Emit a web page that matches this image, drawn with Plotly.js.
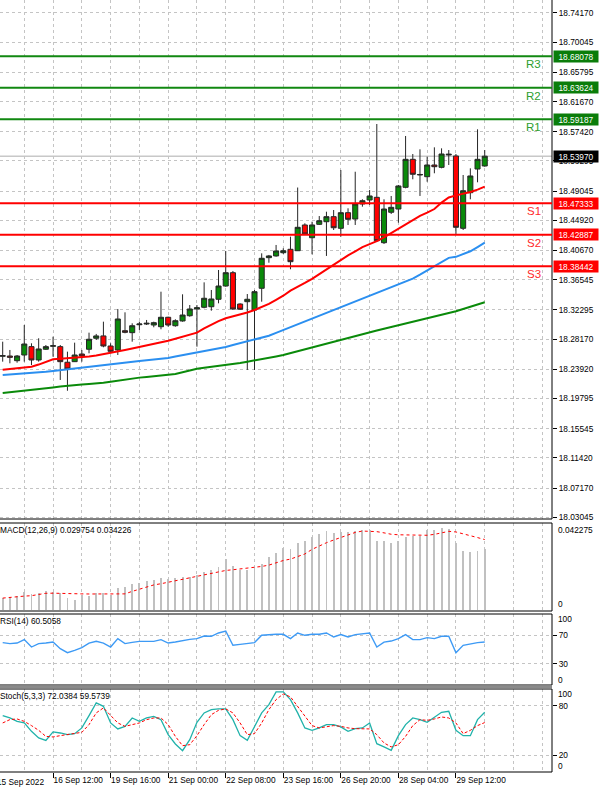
<!DOCTYPE html>
<html><head><meta charset="utf-8">
<script src="https://cdn.plot.ly/plotly-3.0.1.min.js"></script>
<style>html,body{margin:0;padding:0;background:#fff;}#chart{width:600px;height:791px;}</style>
</head><body><div id="chart"></div>
<script>
// ---------- DATA ----------
const openP = [18.2575,18.2579,18.2513,18.2593,18.2711,18.2523,18.2674,18.2716,18.2711,18.2491,18.2499,18.2607,18.2674,18.2829,18.2862,18.2720,18.2664,18.2936,18.2908,18.3020,18.3030,18.3016,18.2992,18.3125,18.3006,18.3073,18.3147,18.3242,18.3266,18.3274,18.3379,18.3566,18.3754,18.3312,18.3345,18.3228,18.3534,18.3966,18.3990,18.4036,18.4084,18.4064,18.4427,18.4247,18.4436,18.4473,18.4544,18.4380,18.4600,18.4511,18.4723,18.4779,18.4817,18.4177,18.4606,18.4652,18.4958,18.5353,18.5132,18.5108,18.5273,18.5240,18.5414,18.5400,18.4380,18.4882,18.5216,18.5259];
const highP = [18.2781,18.2664,18.2593,18.3016,18.2758,18.2829,18.2734,18.2851,18.2734,18.2640,18.2767,18.2664,18.2908,18.2890,18.3063,18.2758,18.3242,18.3195,18.3040,18.3063,18.3087,18.3063,18.3486,18.3133,18.3097,18.3449,18.3298,18.3298,18.3618,18.3510,18.3792,18.4060,18.3778,18.3322,18.3453,18.3510,18.4027,18.4004,18.4145,18.4098,18.4262,18.4955,18.4451,18.4473,18.4553,18.4614,18.4638,18.5202,18.4662,18.5178,18.4789,18.4920,18.5851,18.4789,18.4836,18.4991,18.5682,18.5428,18.5494,18.5390,18.5522,18.5508,18.5484,18.5428,18.5132,18.5226,18.5776,18.5484];
const lowP = [18.2499,18.2476,18.2485,18.2499,18.2452,18.2499,18.2664,18.2569,18.2241,18.2089,18.2495,18.2499,18.2617,18.2805,18.2702,18.2617,18.2593,18.2899,18.2781,18.2946,18.3016,18.2984,18.2956,18.2992,18.2992,18.3063,18.3133,18.2711,18.3252,18.3218,18.3322,18.3556,18.3228,18.3228,18.2382,18.2382,18.3345,18.3895,18.3980,18.4018,18.3802,18.4060,18.4286,18.4013,18.4427,18.3990,18.4356,18.4262,18.4427,18.4427,18.4685,18.4709,18.4191,18.4159,18.4582,18.4459,18.4944,18.5071,18.4836,18.5037,18.5156,18.5226,18.5273,18.4300,18.4356,18.4789,18.5029,18.5249];
const closeP = [18.2584,18.2561,18.2579,18.2748,18.2523,18.2678,18.2711,18.2724,18.2499,18.2396,18.2593,18.2579,18.2815,18.2862,18.2720,18.2645,18.3101,18.2913,18.3006,18.3030,18.3040,18.3049,18.3125,18.3016,18.3077,18.3157,18.3242,18.3260,18.3393,18.3383,18.3566,18.3754,18.3242,18.3238,18.3379,18.3486,18.3957,18.3990,18.4060,18.4064,18.3909,18.4394,18.4300,18.4427,18.4487,18.4544,18.4388,18.4600,18.4507,18.4723,18.4769,18.4836,18.4205,18.4652,18.4676,18.4977,18.5353,18.5142,18.5139,18.5273,18.5249,18.5428,18.5424,18.4394,18.4910,18.5118,18.5353,18.5397];

const maRed = [18.2386,18.2396,18.2404,18.2415,18.2427,18.2458,18.2494,18.2532,18.2539,18.2546,18.2553,18.2559,18.2572,18.2586,18.2603,18.2621,18.2642,18.2664,18.2685,18.2706,18.2724,18.2747,18.2769,18.2795,18.2822,18.2850,18.2878,18.2908,18.2968,18.3023,18.3071,18.3112,18.3137,18.3159,18.3192,18.3228,18.3267,18.3314,18.3372,18.3429,18.3501,18.3552,18.3609,18.3668,18.3733,18.3806,18.3874,18.3939,18.3999,18.4056,18.4115,18.4157,18.4198,18.4252,18.4315,18.4376,18.4439,18.4501,18.4555,18.4600,18.4652,18.4743,18.4814,18.4844,18.4864,18.4891,18.4926,18.4968];
const maBlue = [18.2312,18.2318,18.2324,18.2328,18.2334,18.2343,18.2356,18.2369,18.2380,18.2393,18.2403,18.2413,18.2422,18.2431,18.2443,18.2458,18.2470,18.2483,18.2496,18.2507,18.2519,18.2528,18.2538,18.2551,18.2572,18.2592,18.2611,18.2631,18.2647,18.2661,18.2682,18.2707,18.2733,18.2758,18.2785,18.2810,18.2836,18.2865,18.2906,18.2946,18.2987,18.3027,18.3067,18.3108,18.3149,18.3190,18.3231,18.3272,18.3312,18.3352,18.3393,18.3434,18.3475,18.3515,18.3555,18.3594,18.3634,18.3671,18.3726,18.3785,18.3850,18.3913,18.3963,18.3978,18.4015,18.4056,18.4116,18.4178];
const maGreen = [18.2057,18.2067,18.2077,18.2087,18.2097,18.2109,18.2122,18.2136,18.2149,18.2161,18.2168,18.2176,18.2183,18.2190,18.2201,18.2216,18.2232,18.2246,18.2262,18.2274,18.2284,18.2294,18.2305,18.2314,18.2326,18.2350,18.2375,18.2399,18.2413,18.2425,18.2437,18.2449,18.2462,18.2480,18.2499,18.2515,18.2534,18.2552,18.2573,18.2593,18.2620,18.2645,18.2674,18.2702,18.2729,18.2757,18.2785,18.2812,18.2840,18.2865,18.2889,18.2915,18.2939,18.2963,18.2987,18.3012,18.3036,18.3060,18.3084,18.3109,18.3133,18.3157,18.3181,18.3211,18.3242,18.3273,18.3305,18.3336];

const macdMain = [0.00601,0.00650,0.00684,0.00894,0.00767,0.00816,0.00929,0.00865,0.00816,0.00572,0.00489,0.00733,0.00684,0.00816,0.00816,0.00733,0.01090,0.01139,0.01256,0.01334,0.01417,0.01466,0.01549,0.01515,0.01549,0.01579,0.01627,0.01710,0.01842,0.01955,0.02067,0.02478,0.02150,0.01955,0.01955,0.02038,0.02233,0.02556,0.02771,0.03015,0.02966,0.03260,0.03372,0.03533,0.03699,0.03827,0.03748,0.03797,0.03797,0.03827,0.03875,0.03875,0.03372,0.03338,0.03260,0.03372,0.03533,0.03582,0.03582,0.03910,0.03910,0.03993,0.03958,0.03260,0.02883,0.02820,0.02883,0.029754];
const macdSignal = [0.00577,0.00621,0.00655,0.00674,0.00694,0.00743,0.00811,0.00816,0.00816,0.00806,0.00797,0.00782,0.00777,0.00772,0.00767,0.00772,0.00777,0.00782,0.00904,0.01012,0.01119,0.01217,0.01276,0.01349,0.01422,0.01495,0.01564,0.01632,0.01701,0.01754,0.01852,0.01921,0.01955,0.01989,0.02018,0.02067,0.02116,0.02180,0.02292,0.02404,0.02473,0.02585,0.02722,0.02947,0.03123,0.03269,0.03401,0.03533,0.03651,0.03768,0.03836,0.03836,0.03807,0.03748,0.03680,0.03655,0.03641,0.03631,0.03631,0.03631,0.03675,0.03748,0.03822,0.03792,0.03704,0.03641,0.03519,0.034226];

const rsi = [59.7,58.3,59.1,63.9,53.5,58.3,59.1,60.5,51.2,45.5,48.8,52.6,59.1,61.5,59.1,53.5,65.3,58.3,60.1,61.5,61.5,61.5,63.9,59.1,60.5,62.9,64.3,65.3,69.0,68.6,73.3,76.1,55.9,57.3,59.0,59.7,70.0,71.0,71.4,71.4,65.3,73.3,70.0,71.4,71.4,73.3,67.6,71.0,67.6,71.0,72.4,73.3,53.5,60.5,61.9,65.3,71.0,63.9,63.9,66.7,65.3,68.6,68.6,45.5,55.9,58.3,59.7,60.5058];

const stochK = [67.9,65.1,61.0,59.1,49.0,41.0,38.1,48.3,47.0,45.0,46.2,53.1,67.9,83.2,79.1,59.1,51.9,55.0,65.1,61.0,65.1,67.1,63.1,45.0,33.8,25.7,39.0,59.8,71.2,75.2,76.0,76.0,63.1,43.8,38.1,55.0,71.2,81.2,96.5,96.5,87.2,71.2,53.1,50.2,53.1,57.1,57.1,54.3,49.0,52.2,53.1,59.1,34.1,30.2,26.1,43.8,57.1,65.1,63.1,59.8,66.3,71.9,73.1,50.2,43.8,43.8,63.1,72.0384];
const stochD = [59.1,63.1,63.9,61.0,55.9,50.2,42.9,42.2,43.8,45.0,46.2,47.8,57.1,71.2,77.2,67.9,59.1,55.0,57.1,59.1,63.1,65.1,65.1,57.1,42.9,31.7,32.9,43.8,57.1,69.1,74.3,76.0,71.2,59.1,45.0,46.2,59.1,75.2,87.2,94.1,90.5,79.1,67.1,55.9,53.1,54.3,55.9,55.0,53.1,52.2,52.2,51.9,45.0,35.0,30.2,32.9,42.9,55.9,63.1,62.2,63.9,66.3,65.1,59.1,46.2,50.2,55.9,59.5739];

const levelNames = ['R3','R2','R1','S1','S2','S3'];
const levelValues = [18.68078,18.63624,18.59187,18.47333,18.42887,18.38442];
const priceTicks = [18.74170,18.70045,18.65795,18.61670,18.57420,18.53295,18.49045,18.44920,18.40670,18.36545,18.32295,18.28170,18.23920,18.19795,18.15545,18.11420,18.07170,18.03045];
const timeTickIdx = [-1,7,15,23,31,39,47,55,63];
const timeTickLabels = ['15 Sep 2022','16 Sep 12:00','19 Sep 16:00','21 Sep 00:00','22 Sep 08:00','23 Sep 16:00','26 Sep 20:00','28 Sep 04:00','29 Sep 12:00'];
const macdTitle = 'MACD(12,26,9) 0.029754 0.034226';
const rsiTitle = 'RSI(14) 60.5058';
const stochTitle = 'Stoch(5,3,3) 72.0384 59.5739';
const macdMax = 0.042275;

// ---------- LAYOUT ----------
const H = 772; // plot area height in px
function dom(top, bottom) { return [1 - bottom / H, 1 - top / H]; }
const FONT = 'Liberation Sans, Arial, sans-serif';
const FS = 8.3;
const GRID = '#c4c4c4';
const DASH = '3px,3px';
const xIdx = closeP.map((_, i) => i);
const xRange = [-0.375, 76.35];
const lastClose = closeP[closeP.length - 1];

const traces = [
  {type:'candlestick', x:xIdx, open:openP, high:highP, low:lowP, close:closeP, xaxis:'x', yaxis:'y',
   increasing:{line:{color:'#262626', width:1}, fillcolor:'#0a8a0a'},
   decreasing:{line:{color:'#262626', width:1}, fillcolor:'#ff0000'},
   whiskerwidth:0, hoverinfo:'skip'},
  {type:'scatter', mode:'lines', x:xIdx, y:maGreen, line:{color:'#0a8a0a', width:2}, xaxis:'x', yaxis:'y'},
  {type:'scatter', mode:'lines', x:xIdx, y:maBlue, line:{color:'#2b8ff0', width:2}, xaxis:'x', yaxis:'y'},
  {type:'scatter', mode:'lines', x:xIdx, y:maRed, line:{color:'#ff0000', width:2}, xaxis:'x', yaxis:'y'},
  {type:'bar', x:xIdx, y:macdMain, width:0.26, marker:{color:'#c0c0c0'}, xaxis:'x', yaxis:'y2'},
  {type:'scatter', mode:'lines', x:xIdx, y:macdSignal, line:{color:'#ff0000', width:1, dash:'dot'}, xaxis:'x', yaxis:'y2'},
  {type:'scatter', mode:'lines', x:xIdx, y:rsi, line:{color:'#3d9af5', width:1.4}, xaxis:'x', yaxis:'y3'},
  {type:'scatter', mode:'lines', x:xIdx, y:stochK, line:{color:'#20b2aa', width:1.3}, xaxis:'x', yaxis:'y4'},
  {type:'scatter', mode:'lines', x:xIdx, y:stochD, line:{color:'#ff0000', width:1, dash:'3px,2px'}, xaxis:'x', yaxis:'y4'}
];

const minorVals = [];
for (let v = 3; v <= 76; v += 4) minorVals.push(v);

const shapes = [];
const annotations = [];
// panel borders
[['y domain', 0, 1.05], ['y2 domain', 0, 1], ['y3 domain', 0, 1], ['y4 domain', 0, 1]].forEach(p => {
  shapes.push({type:'rect', xref:'paper', yref:p[0], x0:-0.02, x1:1, y0:p[1], y1:p[2],
    line:{color:'#000', width:1}, fillcolor:'rgba(0,0,0,0)', layer:'above'});
});
// separator between RSI and Stoch
shapes.push({type:'rect', xref:'paper', yref:'paper', x0:-0.02, x1:1, y0:1-688/H, y1:1-685.5/H,
  line:{width:0}, fillcolor:'#8a8a8a', layer:'above'});
// bid line
shapes.push({type:'line', xref:'paper', yref:'y', x0:0, x1:1, y0:lastClose, y1:lastClose,
  line:{color:'#c8c8c8', width:1.5}, layer:'between'});
// support / resistance
levelNames.forEach((n, i) => {
  const isR = n[0] === 'R';
  const col = isR ? '#118811' : '#ff0000';
  shapes.push({type:'line', xref:'paper', yref:'y', x0:0, x1:1, y0:levelValues[i], y1:levelValues[i],
    line:{color:col, width:2}, layer:'above'});
  annotations.push({xref:'paper', yref:'y', x:1, y:levelValues[i], xanchor:'right', yanchor:'middle',
    xshift:-9, yshift:-8, text:n, showarrow:false, font:{family:FONT, size:11.5, color:isR ? '#2e9e2e' : '#ff2a2a'}});
  annotations.push({xref:'paper', yref:'y', x:1, y:levelValues[i], xanchor:'left', yanchor:'middle',
    xshift:1, text:levelValues[i].toFixed(5), showarrow:false, bgcolor:isR ? '#0a7d0a' : '#ff0000',
    width:43, height:10, borderpad:0.5, font:{family:FONT, size:FS, color:'#fff'}});
});
annotations.push({xref:'paper', yref:'y', x:1, y:lastClose, xanchor:'left', yanchor:'middle',
  xshift:1, text:lastClose.toFixed(5), showarrow:false, bgcolor:'#000',
  width:43, height:10, borderpad:0.5, font:{family:FONT, size:FS, color:'#fff'}});
// panel titles
[['y2 domain', macdTitle], ['y3 domain', rsiTitle], ['y4 domain', stochTitle]].forEach(t => {
  annotations.push({xref:'paper', yref:t[0], x:0, y:1, xanchor:'left', yanchor:'middle', xshift:-2, yshift:-7,
    text:t[1], showarrow:false, font:{family:FONT, size:FS, color:'#000'}});
});
// clamped scale labels of sub-windows
function sideLabel(yref, y, text, shift) {
  annotations.push({xref:'paper', yref:yref, x:1, y:y, xanchor:'left', yanchor:'middle', xshift:4, yshift:shift,
    text:text, showarrow:false, font:{family:FONT, size:FS, color:'#000'}});
}
sideLabel('y2', macdMax, String(macdMax), -6.5);
sideLabel('y2', 0, '0', 6);
sideLabel('y3', 100, '100', -4.5);
sideLabel('y3', 0, '0', 5);
sideLabel('y4', 100, '100', -5);
sideLabel('y4', 0, '0', 6);
// first (clipped) date label
annotations.push({xref:'paper', yref:'paper', x:(timeTickIdx[0] - xRange[0]) / (xRange[1] - xRange[0]), y:0,
  xanchor:'left', yanchor:'top', xshift:-1, yshift:-3, text:timeTickLabels[0], showarrow:false,
  font:{family:FONT, size:FS, color:'#000'}});

const yCommon = {side:'right', anchor:'x', zeroline:false, showline:false, fixedrange:true,
  tickfont:{family:FONT, size:FS, color:'#000'}, ticks:'outside', ticklen:4, tickcolor:'#000',
  gridcolor:GRID, griddash:DASH, gridwidth:1};

const layout = {
  width:600, height:791, margin:{l:0, r:48, t:0, b:19},
  paper_bgcolor:'#fff', plot_bgcolor:'#fff', showlegend:false, hovermode:false,
  boxgap:0, boxgroupgap:0.3, bargap:0,
  font:{family:FONT, size:FS, color:'#000'},
  xaxis:{domain:[0,1], range:xRange, anchor:'y4', rangeslider:{visible:false}, zeroline:false, showline:false,
    tickmode:'array', tickvals:timeTickIdx, ticktext:timeTickLabels, ticks:'outside', ticklen:5, tickcolor:'#000',
    tickangle:0, automargin:false,
    ticklabelposition:'outside right', tickfont:{family:FONT, size:FS, color:'#000'},
    showgrid:true, gridcolor:GRID, griddash:DASH, gridwidth:1,
    minor:{tickmode:'array', tickvals:minorVals, showgrid:true, gridcolor:GRID, griddash:DASH, gridwidth:1, ticks:''}},
  yaxis:Object.assign({}, yCommon, {domain:dom(0,519), range:[18.0280, 18.7600], tickmode:'array', tickvals:priceTicks, tickformat:'.5f', showgrid:true}),
  yaxis2:Object.assign({}, yCommon, {domain:dom(523,611), range:[-0.0005, macdMax], showticklabels:false, ticks:'', showgrid:false}),
  yaxis3:Object.assign({}, yCommon, {domain:dom(614,685), range:[0,100], tickmode:'array', tickvals:[30,70], showgrid:true}),
  yaxis4:Object.assign({}, yCommon, {domain:dom(689,772), range:[0,100], tickmode:'array', tickvals:[20,80], showgrid:true}),
  shapes:shapes, annotations:annotations
};

Plotly.newPlot('chart', traces, layout, {staticPlot:true, displayModeBar:false});
</script>
</body></html>
